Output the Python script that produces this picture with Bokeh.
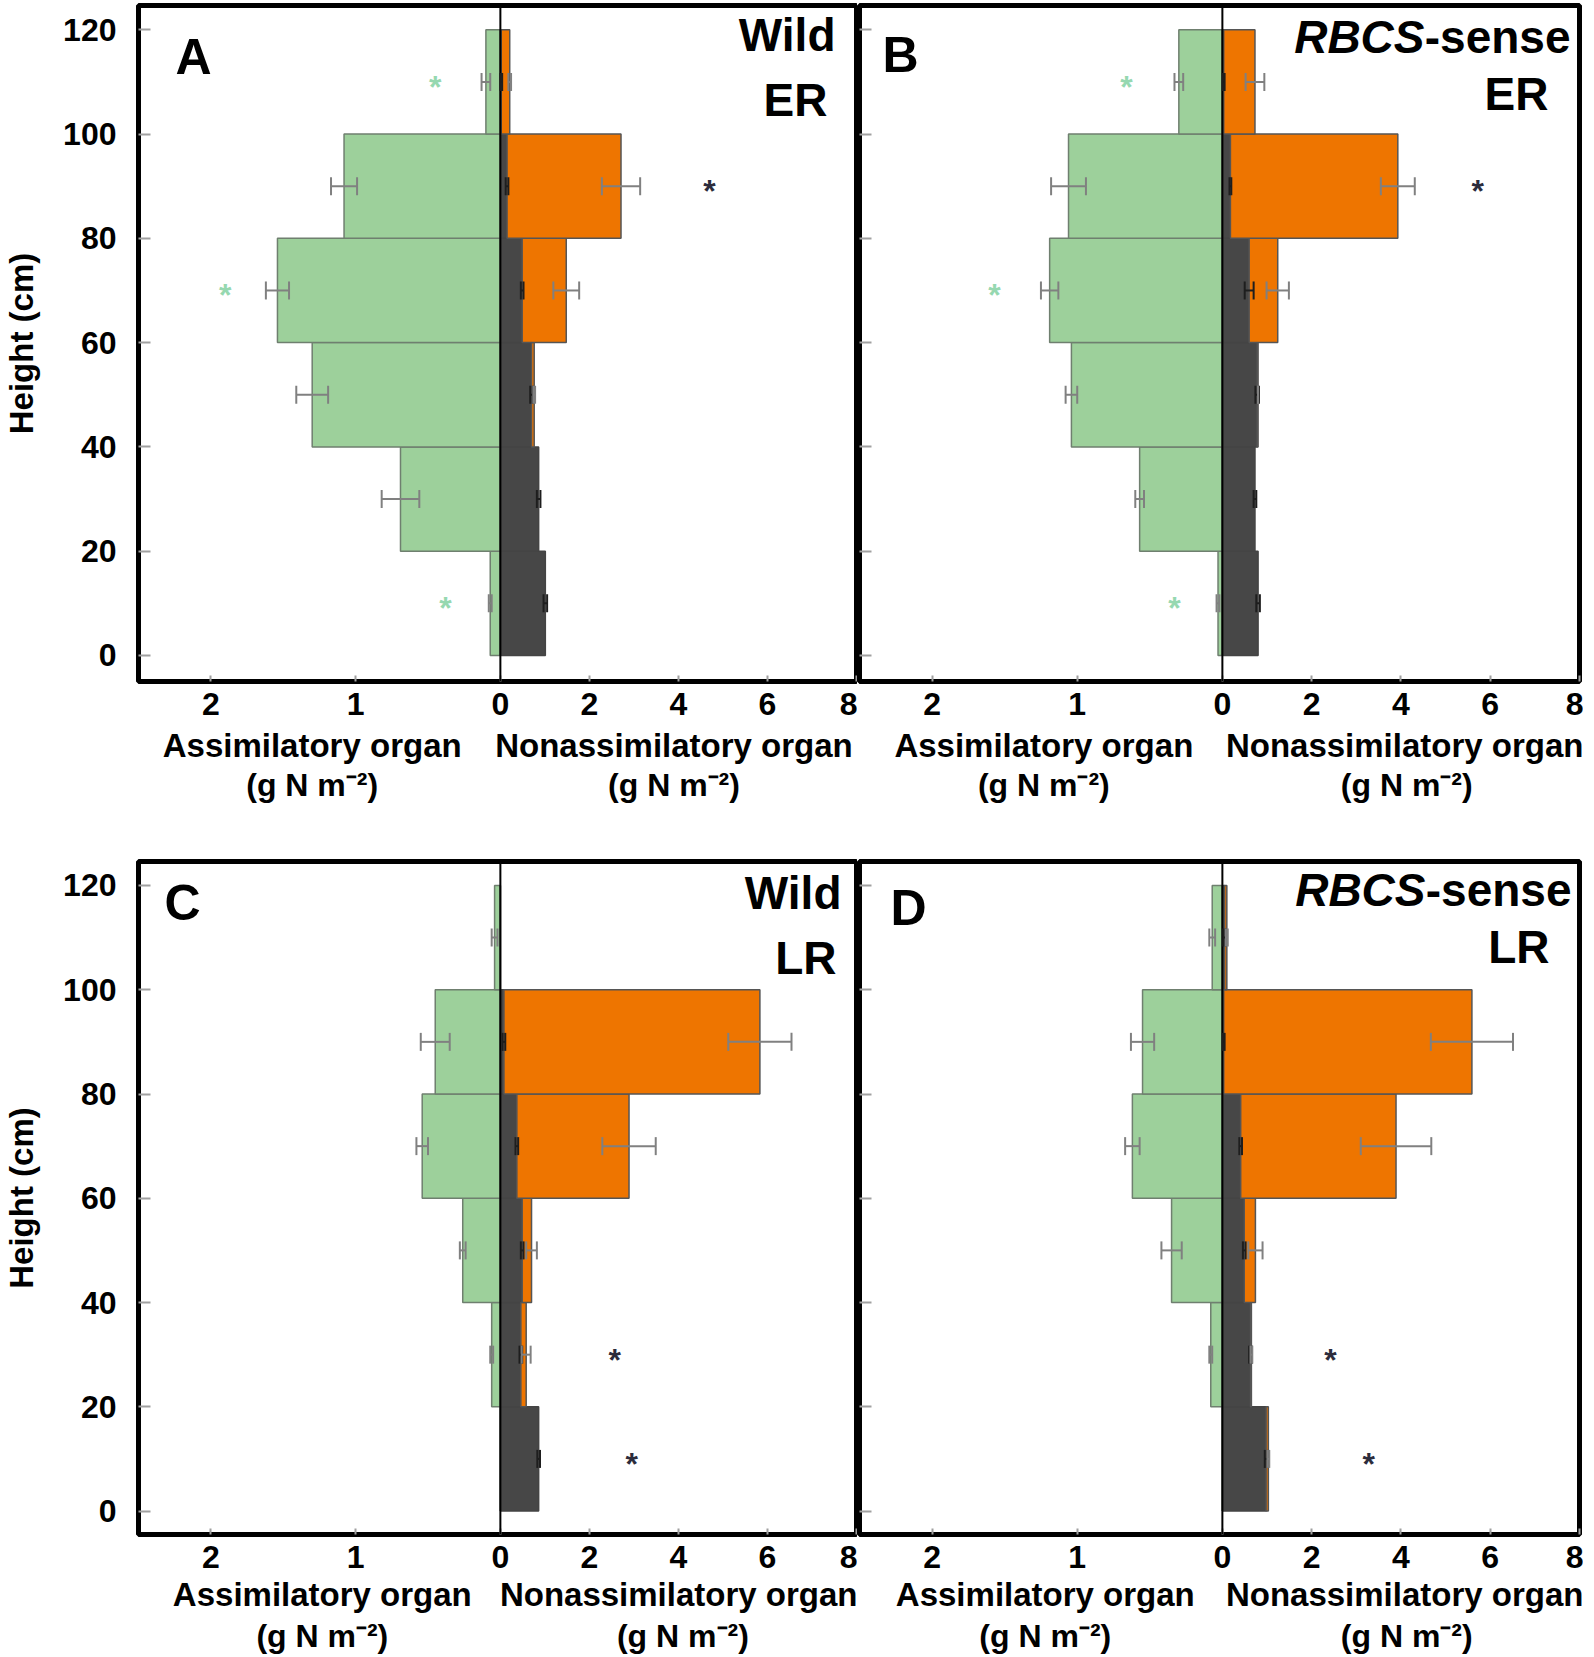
from bokeh.plotting import figure
from bokeh.models import (Range1d, FixedTicker, CustomJSTickFormatter, Span, Label,
                          Whisker, TeeHead, ColumnDataSource, LinearAxis)
from bokeh.layouts import column, row
from bokeh.embed import file_html
from bokeh.resources import INLINE
from bokeh.core.properties import value

# ---------------- data ----------------
heights = [10, 30, 50, 70, 90, 110]          # centre of each 20-cm layer
bin_height = 20
assim_ticks = [2, 1]
nonassim_ticks = [0, 2, 4, 6, 8]
height_ticks = [0, 20, 40, 60, 80, 100, 120]
assim_title = "Assimilatory organ"
nonassim_title = "Nonassimilatory organ"
unit_title = "(g N m\u207b\u00b2)"

# Panel A: Wild, ER
a_assim = [0.07, 0.69, 1.30, 1.54, 1.08, 0.10]
a_assim_err = [0.01, 0.13, 0.11, 0.08, 0.09, 0.03]
a_stem = [1.01, 0.86, 0.70, 0.49, 0.15, 0.02]
a_stem_err = [0.04, 0.04, 0.03, 0.03, 0.03, 0.02]
a_panicle = [0.0, 0.0, 0.06, 0.99, 2.56, 0.19]
a_panicle_err = [0.0, 0.0, 0.02, 0.29, 0.43, 0.03]
a_star_assim_x = [0.45, 1.90, 0.38]
a_star_assim_y = [110, 70, 10]
a_star_non_x = [4.70]
a_star_non_y = [90]

# Panel B: RBCS-sense, ER
b_assim = [0.03, 0.57, 1.04, 1.19, 1.06, 0.30]
b_assim_err = [0.01, 0.03, 0.04, 0.06, 0.12, 0.03]
b_stem = [0.80, 0.73, 0.78, 0.60, 0.18, 0.03]
b_stem_err = [0.04, 0.03, 0.04, 0.10, 0.02, 0.02]
b_panicle = [0.0, 0.0, 0.02, 0.64, 3.75, 0.70]
b_panicle_err = [0.0, 0.0, 0.0, 0.25, 0.38, 0.21]
b_star_assim_x = [0.66, 1.57, 0.33]
b_star_assim_y = [110, 70, 10]
b_star_non_x = [5.72]
b_star_non_y = [90]

# Panel C: Wild, LR
c_assim = [0.0, 0.06, 0.26, 0.54, 0.45, 0.04]
c_assim_err = [0.0, 0.01, 0.02, 0.04, 0.10, 0.02]
c_stem = [0.86, 0.46, 0.49, 0.37, 0.08, 0.0]
c_stem_err = [0.03, 0.03, 0.03, 0.03, 0.03, 0.0]
c_panicle = [0.0, 0.12, 0.21, 2.52, 5.75, 0.0]
c_panicle_err = [0.0, 0.10, 0.12, 0.60, 0.71, 0.0]
c_star_assim_x = []
c_star_assim_y = []
c_star_non_x = [2.57, 2.95]
c_star_non_y = [30, 10]

# Panel D: RBCS-sense, LR
d_assim = [0.0, 0.08, 0.35, 0.62, 0.55, 0.07]
d_assim_err = [0.0, 0.01, 0.07, 0.05, 0.08, 0.02]
d_stem = [0.98, 0.63, 0.49, 0.41, 0.03, 0.05]
d_stem_err = [0.03, 0.03, 0.03, 0.03, 0.02, 0.03]
d_panicle = [0.05, 0.02, 0.25, 3.48, 5.56, 0.05]
d_panicle_err = [0.02, 0.02, 0.16, 0.79, 0.92, 0.02]
d_star_assim_x = []
d_star_assim_y = []
d_star_non_x = [2.42, 3.28]
d_star_non_y = [30, 10]

# ---------------- style ----------------
FONT = "Liberation Sans"
GREEN = "#9dd09b"
GREEN_EDGE = "#6f7f6f"
ORANGE = "#ee7500"
DARK = "#474747"
EDGE = "#444444"
ERR = "#808080"
STAR_GREEN = "#96d8b0"
STAR_DARK = "#2c2c3c"

L_MAX = 2.5
R_MAX = 8.0
FRAC = 0.504                     # share of the frame to the left of zero
FRAME_W = 720
K = (R_MAX * FRAC / (1 - FRAC)) / L_MAX     # main-range units per assim unit
MAIN_START = -L_MAX * K
ASSIM_END = -R_MAX / K


def style_text_axis(ax, standoff, size):
    ax.major_tick_in = 0
    ax.major_tick_out = 0
    ax.minor_tick_line_color = None
    ax.major_tick_line_color = None
    ax.axis_line_color = None
    ax.major_label_text_font = FONT
    ax.major_label_text_font_size = size
    ax.major_label_text_font_style = "bold"
    ax.major_label_text_color = "black"
    ax.major_label_standoff = standoff


def make_panel(assim, assim_err, stem, stem_err, panicle, panicle_err,
               sax, say, snx, sny, letter, line1, line2, italic_prefix,
               first_col, top_row, pos, title_at):
    if first_col:
        mbl, mbr = 136, 1
    else:
        mbl, mbr = 2, 4
    if top_row:
        mbt, frame_h, mbb, yr = 5, 676, 176, (-5, 124.66)
        s2, s3 = 9, 0
        dy = 19
    else:
        mbt, frame_h, mbb, yr = 4, 676, 119, (-4.5, 124.6)
        s2, s3 = 5, 2
        dy = 13
    width = mbl + FRAME_W + mbr
    height = mbt + frame_h + mbb

    p = figure(width=width, height=height, x_range=Range1d(MAIN_START, R_MAX),
               y_range=Range1d(*yr), output_backend="svg", toolbar_location=None,
               min_border_left=mbl, min_border_right=mbr, min_border_top=mbt,
               min_border_bottom=mbb)
    p.title.visible = False
    p.extra_x_ranges = {"assim": Range1d(L_MAX, ASSIM_END)}
    p.grid.visible = False
    p.outline_line_color = "black"
    p.outline_line_width = 5
    p.outline_line_alpha = 1
    p.background_fill_color = "white"
    p.border_fill_color = "white"

    # x axis (both scales on one line)
    xa = p.xaxis[0]
    xa.ticker = FixedTicker(ticks=[-v * K for v in assim_ticks] + nonassim_ticks)
    xa.formatter = CustomJSTickFormatter(
        args=dict(k=K),
        code="return tick < -1e-9 ? String(Math.round(-tick / k)) : String(Math.round(tick));")
    xa.major_tick_in = 6
    xa.major_tick_out = 0
    xa.minor_tick_line_color = None
    xa.major_tick_line_color = "#a0a0a0"
    xa.major_tick_line_width = 2
    xa.axis_line_color = None
    xa.major_label_text_font = FONT
    xa.major_label_text_font_size = "32px"
    xa.major_label_text_font_style = "bold"
    xa.major_label_text_color = "black"
    xa.major_label_standoff = 11

    # axis titles, one under each half, as label rows of extra axes
    ta, tn = title_at
    centres = [-ta * K, tn]
    ax2 = LinearAxis(ticker=FixedTicker(ticks=centres),
                     formatter=CustomJSTickFormatter(
                         args=dict(a=assim_title, n=nonassim_title),
                         code="return tick < 0 ? a : n;"))
    style_text_axis(ax2, s2, "33px")
    p.add_layout(ax2, "below")
    ax3 = LinearAxis(ticker=FixedTicker(ticks=centres),
                     formatter=CustomJSTickFormatter(args=dict(u=unit_title),
                                                     code="return u;"))
    style_text_axis(ax3, s3, "32px")
    p.add_layout(ax3, "below")

    ya = p.yaxis[0]
    ya.ticker = FixedTicker(ticks=height_ticks)
    ya.major_tick_in = 12
    ya.major_tick_out = 0
    ya.minor_tick_line_color = None
    ya.major_tick_line_color = "#a0a0a0"
    ya.major_tick_line_width = 2
    ya.axis_line_color = None
    if first_col:
        ya.major_label_text_font = FONT
        ya.major_label_text_font_size = "32px"
        ya.major_label_text_font_style = "bold"
        ya.major_label_text_color = "black"
        ya.major_label_standoff = 22
        ya.axis_label = "Height (cm)"
        ya.axis_label_text_font = FONT
        ya.axis_label_text_font_size = "33px"
        ya.axis_label_text_font_style = "bold"
        ya.axis_label_text_color = "black"
        ya.axis_label_standoff = 20
    else:
        ya.formatter = CustomJSTickFormatter(code="return '';")
        ya.major_label_standoff = 0

    # bars
    p.hbar(y=heights, height=bin_height, left=0, right=assim, x_range_name="assim",
           fill_color=GREEN, line_color=GREEN_EDGE, line_width=1.5)
    p.hbar(y=heights, height=bin_height, left=0, right=stem,
           fill_color=DARK, line_color=EDGE, line_width=1.5)
    rows = [i for i in range(len(heights)) if panicle[i] > 0]
    tot = [stem[i] + panicle[i] for i in range(len(heights))]
    p.hbar(y=[heights[i] for i in rows], height=bin_height,
           left=[stem[i] for i in rows], right=[tot[i] for i in rows],
           fill_color=ORANGE, line_color="#555555", line_width=1.5)

    # error bars
    def whisk(vals, errs, color, rng):
        idx = [i for i in range(len(heights)) if vals[i] > 0]
        src = ColumnDataSource(dict(
            y=[heights[i] for i in idx],
            lo=[vals[i] - errs[i] for i in idx],
            hi=[vals[i] + errs[i] for i in idx]))
        kw = dict(base="y", lower="lo", upper="hi", dimension="width", source=src,
                  line_color=color, line_width=2, level="overlay",
                  upper_head=TeeHead(size=18, line_color=color, line_width=2),
                  lower_head=TeeHead(size=18, line_color=color, line_width=2))
        if rng:
            kw["x_range_name"] = rng
        p.add_layout(Whisker(**kw))

    whisk(assim, assim_err, ERR, "assim")
    whisk(stem, stem_err, "#1e1e1e", None)
    whisk([tot[i] if panicle[i] > 0 else 0 for i in range(len(heights))],
          panicle_err, ERR, None)

    # zero line
    p.add_layout(Span(location=0, dimension="height", line_color="black", line_width=2))

    # significance asterisks
    if sax:
        p.text(x=sax, y=say, text=["*"] * len(sax), x_range_name="assim",
               text_color=STAR_GREEN, text_font=value(FONT), text_font_size="32px",
               text_font_style="bold", text_align="center", text_baseline="alphabetic",
               y_offset=5)
    if snx:
        p.text(x=snx, y=sny, text=["*"] * len(snx),
               text_color=STAR_DARK, text_font=value(FONT), text_font_size="32px",
               text_font_style="bold", text_align="center", text_baseline="alphabetic",
               y_offset=5)

    # in-panel labels
    lx, ly, l1x, l1y, l2x, l2y = pos
    p.add_layout(Label(x=lx, y=ly + dy, x_units="screen", y_units="screen",
                       text=letter, text_font=FONT, text_font_size="50px",
                       text_font_style="bold", text_color="black", text_align="left",
                       text_baseline="alphabetic"))
    if italic_prefix:
        p.add_layout(Label(x=l1x - 146, y=l1y + dy, x_units="screen",
                           y_units="screen", text=italic_prefix, text_font=FONT,
                           text_font_size="46px", text_font_style="bold italic",
                           text_color="black", text_align="right",
                           text_baseline="alphabetic"))
    p.add_layout(Label(x=l1x, y=l1y + dy, x_units="screen", y_units="screen",
                       text=line1, text_font=FONT, text_font_size="46px",
                       text_font_style="bold", text_color="black", text_align="right",
                       text_baseline="alphabetic"))
    p.add_layout(Label(x=l2x, y=l2y + dy, x_units="screen", y_units="screen",
                       text=line2, text_font=FONT, text_font_size="46px",
                       text_font_style="bold", text_color="black", text_align="right",
                       text_baseline="alphabetic"))
    return p


pA = make_panel(a_assim, a_assim_err, a_stem, a_stem_err, a_panicle, a_panicle_err,
                a_star_assim_x, a_star_assim_y, a_star_non_x, a_star_non_y,
                "A", "Wild", "ER", None, True, True, (37, 606, 697, 628, 689, 563),
                (1.3, 3.9))
pB = make_panel(b_assim, b_assim_err, b_stem, b_stem_err, b_panicle, b_panicle_err,
                b_star_assim_x, b_star_assim_y, b_star_non_x, b_star_non_y,
                "B", "-sense", "ER", "RBCS", False, True, (23, 608, 711, 626, 689, 569),
                (1.23, 4.13))
pC = make_panel(c_assim, c_assim_err, c_stem, c_stem_err, c_panicle, c_panicle_err,
                c_star_assim_x, c_star_assim_y, c_star_non_x, c_star_non_y,
                "C", "Wild", "LR", None, True, False, (26, 619, 703, 629, 698, 564),
                (1.23, 4.1))
pD = make_panel(d_assim, d_assim_err, d_stem, d_stem_err, d_panicle, d_panicle_err,
                d_star_assim_x, d_star_assim_y, d_star_non_x, d_star_non_y,
                "D", "-sense", "LR", "RBCS", False, False, (31, 614, 712, 632, 690, 575),
                (1.22, 4.13))

layout = column(row(pA, pB), row(pC, pD))
open("out.html", "w").write(file_html(layout, INLINE))
